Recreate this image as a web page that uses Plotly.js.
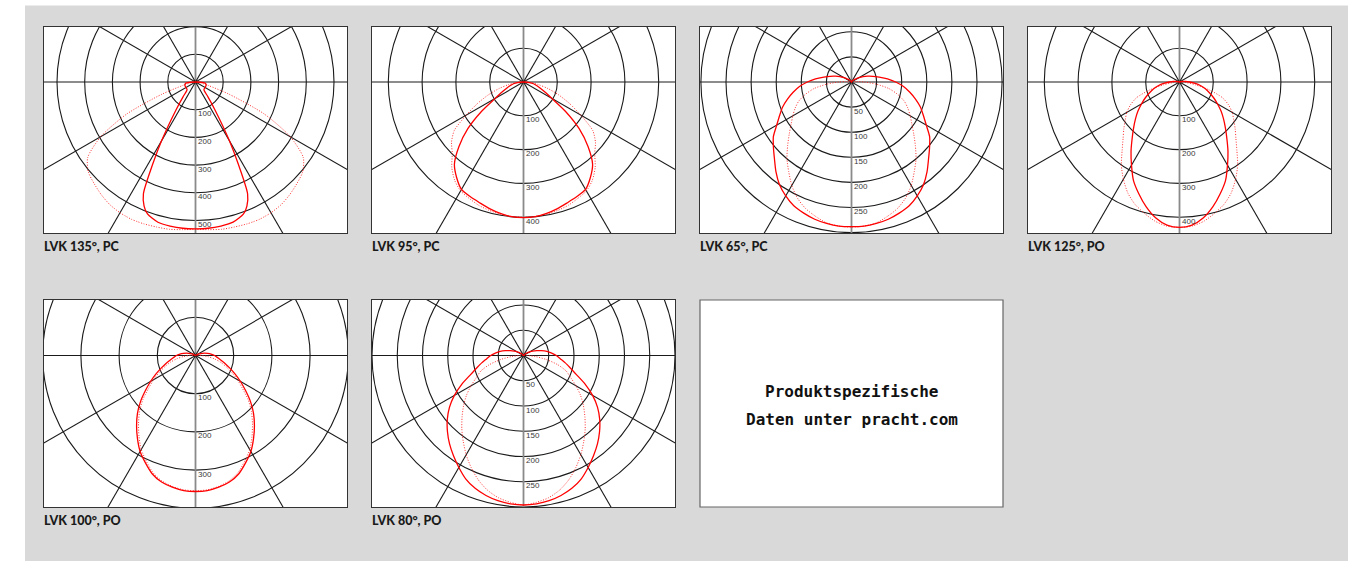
<!DOCTYPE html>
<html>
<head>
<meta charset="utf-8">
<script src="https://cdn.plot.ly/plotly-3.0.1.min.js"></script>
<style>html,body{margin:0;padding:0;background:#fff}#chart{width:1363px;height:561px}</style>
</head>
<body>
<div id="chart"></div>
<script>
// ---------- DATA ----------
const titles = ['LVK 135°, PC', 'LVK 95°, PC', 'LVK 65°, PC', 'LVK 125°, PO', 'LVK 100°, PO', 'LVK 80°, PO'];
const noteLines = ['Produktspezifische', 'Daten unter pracht.com'];

// ring values (cd/klm) and the ones that carry a label
const rings1 = [100, 200, 300, 400, 500];
const ringLabels1 = [100, 200, 300, 400, 500];
const rings2 = [100, 200, 300, 400];
const ringLabels2 = [100, 200, 300, 400];
const rings3 = [50, 100, 150, 200, 250, 300];
const ringLabels3 = [50, 100, 150, 200, 250];
const rings4 = [100, 200, 300, 400];
const ringLabels4 = [100, 200, 300, 400];
const rings5 = [100, 200, 300, 400];
const ringLabels5 = [100, 200, 300];
const rings6 = [50, 100, 150, 200, 250, 300];
const ringLabels6 = [50, 100, 150, 200, 250];

// angular grid (degrees from nadir)
const spokeAngles = [0, 30, 60, 90, 120, 150];

// Panel 1: LVK 135°, PC
const gamma1 = [0, 5, 10, 15, 20, 22.5, 25, 27.5, 30, 35, 40, 45, 50, 55, 60, 65, 70, 75, 80, 85, 90];
const solid1 = [530, 530, 528, 524, 507, 485, 445, 335, 245, 122, 70, 45, 40, 40, 40, 40, 40, 40, 38, 30, 0];
const dotted1 = [532, 535, 540, 542, 545, 546, 547, 546, 545, 540, 530, 518, 505, 475, 395, 275, 130, 46, 20, 8, 0];

// Panel 2: LVK 95°, PC
const gamma2 = [0, 5, 10, 15, 20, 25, 30, 35, 40, 45, 50, 55, 60, 65, 70, 75, 80, 85, 90];
const solid2 = [401, 400, 395, 388, 380, 374, 367, 345, 318, 270, 215, 152, 97, 70, 52, 40, 30, 18, 0];
const dotted2 = [400, 399, 397, 393, 388, 380, 372, 355, 330, 298, 278, 250, 195, 150, 110, 75, 45, 20, 0];

// Panel 3: LVK 65°, PC
const gamma3 = [0, 5, 10, 15, 20, 25, 30, 35, 40, 45, 50, 55, 60, 65, 70, 75, 80, 85, 90, 95, 100, 105, 110, 115, 120, 125, 130, 135, 140, 150, 160];
const solid3 = [288, 288, 286, 283, 278, 272, 262, 250, 234, 217, 203, 190, 172, 158, 146, 132, 118, 104, 88, 72, 56, 44, 34, 25, 17, 12, 8, 5, 3, 1, 0];
const dotted3 = [289, 288, 285, 277, 268, 255, 238, 218, 200, 180, 162, 147, 135, 124, 112, 95, 76, 50, 25, 10, 0, 0, 0, 0, 0, 0, 0, 0, 0, 0, 0];

// Panel 4: LVK 125°, PO
const gamma4 = [0, 5, 10, 15, 20, 25, 30, 35, 40, 45, 50, 55, 60, 65, 70, 75, 80, 85, 90, 95, 100, 105, 110];
const solid4 = [430, 425, 408, 382, 352, 322, 284, 250, 218, 192, 170, 150, 130, 112, 95, 80, 64, 47, 30, 18, 10, 4, 0];
const dotted4 = [430, 428, 418, 402, 385, 362, 332, 300, 264, 236, 215, 196, 180, 160, 135, 92, 47, 20, 5, 0, 0, 0, 0];

// Panel 5: LVK 100°, PO
const gamma5 = [0, 5, 10, 15, 20, 25, 30, 35, 40, 45, 50, 55, 60, 65, 70, 75, 80, 85, 90, 95, 100, 105, 110, 115, 120, 125, 130];
const solid5 = [356, 355, 350, 343, 330, 310, 290, 265, 240, 215, 188, 160, 136, 114, 95, 80, 67, 57, 50, 41, 32, 24, 15, 10, 5, 2, 0];
const dotted5 = [354, 353, 348, 340, 326, 305, 284, 258, 232, 207, 180, 150, 127, 105, 85, 68, 50, 32, 15, 5, 0, 0, 0, 0, 0, 0, 0];

// Panel 6: LVK 80°, PO
const gamma6 = [0, 5, 10, 15, 20, 25, 30, 35, 40, 45, 50, 55, 60, 65, 70, 75, 80, 85, 90, 95, 100, 105, 110, 115, 120, 125, 130, 135, 140, 145];
const solid6 = [296, 295, 292, 287, 280, 270, 256, 242, 228, 213, 197, 179, 158, 135, 112, 96, 84, 73, 65, 56, 47, 37, 28, 20, 13, 9, 6, 3, 2, 0];
const dotted6 = [296, 292, 286, 276, 262, 245, 227, 208, 190, 172, 155, 138, 120, 103, 90, 70, 46, 24, 8, 0, 0, 0, 0, 0, 0, 0, 0, 0, 0, 0];

// ---------- LAYOUT GEOMETRY (pixels) ----------
const W = 1363, H = 561;
const panels = [
  {x0: 44, x1: 347, y0: 27, y1: 233, cy: 82, k: 0.277, g: gamma1, s: solid1, d: dotted1, rings: rings1, labels: ringLabels1},
  {x0: 372, x1: 675, y0: 27, y1: 233, cy: 82, k: 0.338, g: gamma2, s: solid2, d: dotted2, rings: rings2, labels: ringLabels2},
  {x0: 700, x1: 1003, y0: 27, y1: 233, cy: 82, k: 0.502, g: gamma3, s: solid3, d: dotted3, rings: rings3, labels: ringLabels3},
  {x0: 1028, x1: 1331, y0: 27, y1: 233, cy: 82, k: 0.338, g: gamma4, s: solid4, d: dotted4, rings: rings4, labels: ringLabels4},
  {x0: 44, x1: 347, y0: 300, y1: 507, cy: 355.5, k: 0.382, g: gamma5, s: solid5, d: dotted5, rings: rings5, labels: ringLabels5},
  {x0: 372, x1: 675, y0: 300, y1: 507, cy: 355.5, k: 0.505, g: gamma6, s: solid6, d: dotted6, rings: rings6, labels: ringLabels6}
];
const noteBox = {x0: 700, x1: 1003, y0: 300, y1: 507};

const GRID = '#1a1a1a';
const AXISV = '#8a8a8a';
const TITLE_FONT = 'Lato, Roboto, sans-serif';

function curve(g, v) {
  const xs = [], ys = [];
  for (let i = g.length - 1; i >= 0; i--) {
    const a = g[i] * Math.PI / 180;
    xs.push(-v[i] * Math.sin(a)); ys.push(-v[i] * Math.cos(a));
  }
  for (let i = 1; i < g.length; i++) {
    const a = g[i] * Math.PI / 180;
    xs.push(v[i] * Math.sin(a)); ys.push(-v[i] * Math.cos(a));
  }
  return {xs, ys};
}

const traces = [];
const shapes = [];
const annotations = [];
const layout = {
  width: W, height: H,
  margin: {l: 0, r: 0, t: 0, b: 0},
  paper_bgcolor: '#d9d9d9',
  plot_bgcolor: '#ffffff',
  showlegend: false,
  dragmode: false
};

panels.forEach((p, idx) => {
  const n = idx + 1;
  const xs = n === 1 ? 'x' : 'x' + n;
  const ys = n === 1 ? 'y' : 'y' + n;
  const xk = n === 1 ? 'xaxis' : 'xaxis' + n;
  const yk = n === 1 ? 'yaxis' : 'yaxis' + n;
  const cx = (p.x0 + p.x1) / 2;
  const half = (cx - p.x0) / p.k;
  const above = (p.cy - p.y0) / p.k;
  const below = (p.y1 - p.cy) / p.k;
  const axBase = {showgrid: false, zeroline: false, showticklabels: false, ticks: '',
    showline: true, mirror: true, linecolor: '#333333', linewidth: 1, fixedrange: true};
  layout[xk] = Object.assign({}, axBase, {domain: [p.x0 / W, p.x1 / W], range: [-half, half], anchor: ys});
  layout[yk] = Object.assign({}, axBase, {domain: [1 - p.y1 / H, 1 - p.y0 / H], range: [-below, above], anchor: xs});

  // rings
  p.rings.forEach(r => {
    shapes.push({type: 'circle', xref: xs, yref: ys, x0: -r, x1: r, y0: -r, y1: r,
      line: {color: GRID, width: 1.1}, layer: 'below'});
  });
  // spokes
  const L = 5000;
  spokeAngles.forEach(a => {
    const t = a * Math.PI / 180;
    shapes.push({type: 'line', xref: xs, yref: ys,
      x0: -L * Math.sin(t), y0: L * Math.cos(t), x1: L * Math.sin(t), y1: -L * Math.cos(t),
      line: {color: a === 0 ? AXISV : GRID, width: a === 0 ? 1.8 : 1.1}, layer: 'below'});
  });
  // ring labels
  p.labels.forEach(r => {
    annotations.push({xref: xs, yref: ys, x: 0, y: -r, text: String(r), showarrow: false,
      xanchor: 'left', yanchor: 'middle', xshift: 0, yshift: -4,
      font: {family: 'Liberation Sans, Arial, sans-serif', size: 8, color: '#3a3a3a'}});
  });
  // curves
  const c90 = curve(p.g, p.d);
  traces.push({type: 'scatter', mode: 'lines', x: c90.xs, y: c90.ys, xaxis: xs, yaxis: ys,
    line: {color: 'rgba(255,30,30,0.9)', width: 1, dash: '1px,1.6px', shape: 'spline', smoothing: 0.7},
    hoverinfo: 'skip'});
  const c0 = curve(p.g, p.s);
  traces.push({type: 'scatter', mode: 'lines', x: c0.xs, y: c0.ys, xaxis: xs, yaxis: ys,
    line: {color: '#ff0000', width: 1.3, shape: 'spline', smoothing: 0.7},
    hoverinfo: 'skip'});
  // title
  annotations.push({xref: 'paper', yref: 'paper', x: p.x0 / W, y: 1 - (p.y1 + 13) / H,
    xanchor: 'left', yanchor: 'middle', text: titles[idx], showarrow: false, xshift: -2,
    font: {family: TITLE_FONT, size: 12.5, color: '#1a1a1a', weight: 900}});
});

// outer white strips around the grey area
shapes.push({type: 'rect', xref: 'paper', yref: 'paper', x0: 0, x1: 25 / W, y0: 0, y1: 1, fillcolor: '#ffffff', line: {width: 0}, layer: 'above'});
shapes.push({type: 'rect', xref: 'paper', yref: 'paper', x0: 1348 / W, x1: 1, y0: 0, y1: 1, fillcolor: '#ffffff', line: {width: 0}, layer: 'above'});
shapes.push({type: 'rect', xref: 'paper', yref: 'paper', x0: 0, x1: 1, y0: 1 - 5.5 / H, y1: 1, fillcolor: '#ffffff', line: {width: 0}, layer: 'above'});

// note box
shapes.push({type: 'rect', xref: 'paper', yref: 'paper', x0: noteBox.x0 / W, x1: noteBox.x1 / W,
  y0: 1 - noteBox.y1 / H, y1: 1 - noteBox.y0 / H, fillcolor: '#ffffff', line: {color: '#666', width: 1.2}, layer: 'above'});
const noteCx = (noteBox.x0 + noteBox.x1) / 2;
[391, 419].forEach((yy, i) => {
  annotations.push({xref: 'paper', yref: 'paper', x: noteCx / W, y: 1 - yy / H, xanchor: 'center', yanchor: 'middle',
    text: noteLines[i], showarrow: false,
    font: {family: 'DejaVu Sans Mono, Liberation Mono, monospace', size: 16, color: '#111', weight: 'bold'}});
});

layout.shapes = shapes;
layout.annotations = annotations;

Plotly.newPlot('chart', traces, layout, {staticPlot: true, displayModeBar: false});
</script>
</body>
</html>
